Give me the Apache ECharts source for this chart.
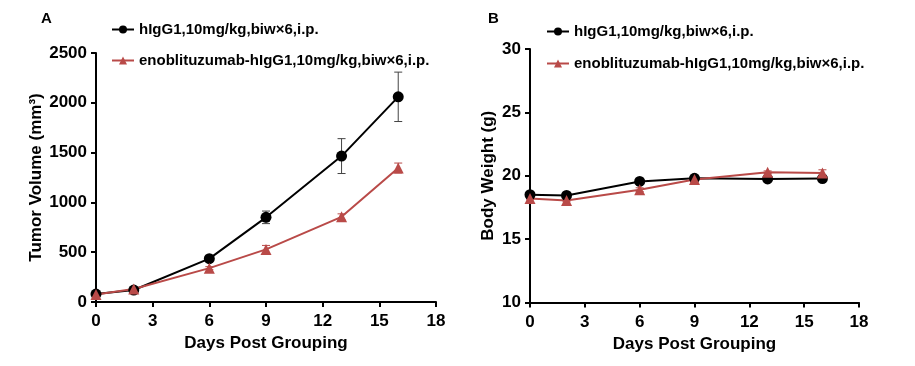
<!DOCTYPE html>
<html><head><meta charset="utf-8">
<script src="https://cdn.jsdelivr.net/npm/echarts@6/dist/echarts.min.js"></script>
<style>html,body{margin:0;padding:0;background:#fff}#c{width:915px;height:366px}</style>
</head><body><div id="c"></div>
<script>
const days = [0, 2, 6, 9, 13, 16];
const seriesNames = ['hIgG1,10mg/kg,biw×6,i.p.', 'enoblituzumab-hIgG1,10mg/kg,biw×6,i.p.'];
const xTicks = [0, 3, 6, 9, 12, 15, 18];
// Panel A: tumor volume (mm3)
const tumorCtrl = [80, 120, 435, 850, 1465, 2060];
const tumorCtrlErr = [15, 15, 20, 63, 175, 248];
const tumorTrt = [75, 130, 340, 528, 855, 1345];
const tumorTrtErr = [10, 15, 15, 40, 30, 50];
// Panel B: body weight (g)
const bwCtrl = [18.5, 18.45, 19.55, 19.8, 19.75, 19.78];
const bwCtrlErr = [0.1, 0.1, 0.2, 0.15, 0.1, 0.1];
const bwTrt = [18.2, 18.05, 18.9, 19.7, 20.28, 20.22];
const bwTrtErr = [0.1, 0.1, 0.15, 0.2, 0.1, 0.25];

const FONT = "'Liberation Sans', Arial, sans-serif";
const BLACK = '#000000';
const RED = '#b94a48';

function pairs(y){ return days.map((d,i)=>[d, y[i]]); }
function errs(y,e){ return days.map((d,i)=>[d, y[i]-e[i], y[i]+e[i]]); }

function errSeries(data, color, xi){
  return {
    type: 'custom', xAxisIndex: xi, yAxisIndex: xi, z: 1, silent: true,
    data: data, encode: {x: 0, y: [1, 2]},
    renderItem: function(params, api){
      const lo = api.coord([api.value(0), api.value(1)]);
      const hi = api.coord([api.value(0), api.value(2)]);
      const w = 4;
      const st = {stroke: color, lineWidth: 1};
      return {type: 'group', children: [
        {type: 'line', shape: {x1: lo[0], y1: lo[1], x2: hi[0], y2: hi[1]}, style: st},
        {type: 'line', shape: {x1: lo[0]-w, y1: lo[1], x2: lo[0]+w, y2: lo[1]}, style: st},
        {type: 'line', shape: {x1: hi[0]-w, y1: hi[1], x2: hi[0]+w, y2: hi[1]}, style: st}
      ]};
    }
  };
}
function lineSeries(name, data, color, symbol, size, xi){
  return {
    name: name, type: 'line', xAxisIndex: xi, yAxisIndex: xi, z: 3,
    data: data, symbol: symbol, symbolSize: size, showSymbol: true,
    lineStyle: {color: color, width: 2}, itemStyle: {color: color}
  };
}

const labelStyle = {color: BLACK, fontFamily: FONT, fontWeight: 'bold', fontSize: 17};
const axisCommon = {
  axisLine: {show: true, lineStyle: {color: BLACK, width: 2}},
  axisTick: {show: true, length: 5, lineStyle: {color: BLACK, width: 2}},
  splitLine: {show: false},
  nameTextStyle: {color: BLACK, fontFamily: FONT, fontWeight: 'bold', fontSize: 17}
};
function xAx(gi){
  return Object.assign({}, axisCommon, {
    type: 'value', gridIndex: gi, min: xTicks[0], max: xTicks[xTicks.length-1], interval: 3,
    name: 'Days Post Grouping', nameLocation: 'middle', nameGap: 32,
    axisLabel: Object.assign({}, labelStyle, {margin: 11, formatter: v => String(v)})
  });
}

const chart = echarts.init(document.getElementById('c'), null, {renderer: 'canvas'});
chart.setOption({
  animation: false,
  backgroundColor: '#fff',
  title: [
    {text: 'A', left: 36, top: 6, textStyle: {fontFamily: FONT, fontWeight: 'bold', fontSize: 15, color: BLACK}},
    {text: 'B', left: 483, top: 6, textStyle: {fontFamily: FONT, fontWeight: 'bold', fontSize: 15, color: BLACK}}
  ],
  legend: [
    {data: seriesNames, orient: 'vertical', left: 106, top: 17, itemWidth: 22, itemHeight: 10, itemGap: 16,
     textStyle: {fontFamily: FONT, fontWeight: 'bold', fontSize: 15, color: BLACK}, selectedMode: false},
    {data: seriesNames, orient: 'vertical', left: 541, top: 19, itemWidth: 22, itemHeight: 10, itemGap: 17,
     textStyle: {fontFamily: FONT, fontWeight: 'bold', fontSize: 15, color: BLACK}, selectedMode: false}
  ],
  grid: [
    {left: 96, top: 53, width: 340, height: 249, containLabel: false},
    {left: 530, top: 49, width: 329, height: 253.5, containLabel: false}
  ],
  xAxis: [xAx(0), xAx(1)],
  yAxis: [
    Object.assign({}, axisCommon, {type: 'value', gridIndex: 0, min: 0, max: 2500, interval: 500,
      name: 'Tumor Volume (mm³)', nameLocation: 'middle', nameRotate: 90, nameGap: 51,
      axisLabel: Object.assign({}, labelStyle, {margin: 9, formatter: v => String(v)})}),
    Object.assign({}, axisCommon, {type: 'value', gridIndex: 1, min: 10, max: 30, interval: 5,
      name: 'Body Weight (g)', nameLocation: 'middle', nameRotate: 90, nameGap: 33,
      axisLabel: Object.assign({}, labelStyle, {margin: 9, formatter: v => String(v)})})
  ],
  series: [
    errSeries(errs(tumorCtrl, tumorCtrlErr), '#444', 0),
    errSeries(errs(tumorTrt, tumorTrtErr), RED, 0),
    lineSeries(seriesNames[0], pairs(tumorCtrl), BLACK, 'circle', 11, 0),
    lineSeries(seriesNames[1], pairs(tumorTrt), RED, 'triangle', 11, 0),
    errSeries(errs(bwCtrl, bwCtrlErr), '#444', 1),
    errSeries(errs(bwTrt, bwTrtErr), RED, 1),
    lineSeries(seriesNames[0], pairs(bwCtrl), BLACK, 'circle', 11, 1),
    lineSeries(seriesNames[1], pairs(bwTrt), RED, 'triangle', 11, 1)
  ]
});
</script></body></html>
